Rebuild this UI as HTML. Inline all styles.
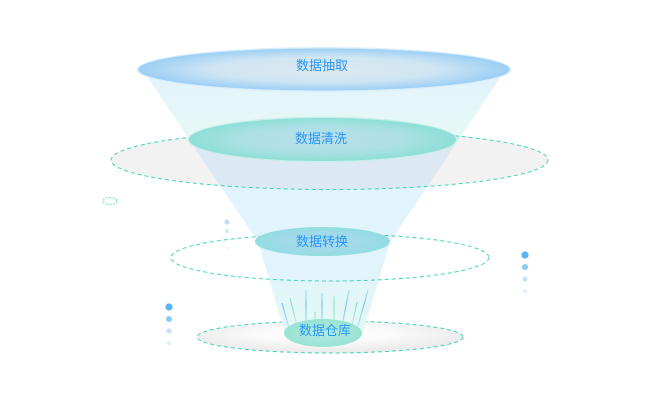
<!DOCTYPE html>
<html><head><meta charset="utf-8"><style>
html,body{margin:0;padding:0;background:#fff;}
svg{display:block;}
text{font-family:"Liberation Sans","Noto Sans CJK SC",sans-serif;font-size:13px;fill:#2896f5;}
</style></head><body>
<svg width="660" height="400" viewBox="0 0 660 400" xmlns="http://www.w3.org/2000/svg">
<defs>
<linearGradient id="fun" x1="0" y1="78" x2="0" y2="335" gradientUnits="userSpaceOnUse">
<stop offset="0" stop-color="#e2f4fb"/>
<stop offset="0.22" stop-color="#e6f8f5"/>
<stop offset="0.4" stop-color="#e1f3fc"/>
<stop offset="0.75" stop-color="#e1f4fb"/>
<stop offset="1" stop-color="#e4f8f3"/>
</linearGradient>
<radialGradient id="gTop" cx="0.5" cy="0.5" r="0.5">
<stop offset="0" stop-color="#dde9f0"/>
<stop offset="0.6" stop-color="#cfe5f3"/>
<stop offset="1" stop-color="#9ccff5"/>
</radialGradient>
<radialGradient id="gClean" cx="0.5" cy="0.5" r="0.5">
<stop offset="0" stop-color="#bbdfeb"/>
<stop offset="0.6" stop-color="#ade0e6"/>
<stop offset="1" stop-color="#8ddfd6"/>
</radialGradient>
<radialGradient id="gTrans" cx="0.5" cy="0.5" r="0.5">
<stop offset="0" stop-color="#acd9ef"/>
<stop offset="0.6" stop-color="#a0dae8"/>
<stop offset="1" stop-color="#92dce1"/>
</radialGradient>
<radialGradient id="gWare" cx="0.5" cy="0.5" r="0.5">
<stop offset="0" stop-color="#b3ece2"/>
<stop offset="1" stop-color="#98e3d2"/>
</radialGradient>
<radialGradient id="gBot" cx="0.48" cy="0.4" r="0.55">
<stop offset="0" stop-color="#ffffff"/>
<stop offset="0.45" stop-color="#fafafa"/>
<stop offset="1" stop-color="#ebebeb"/>
</radialGradient>
<linearGradient id="rb" x1="0" y1="288" x2="0" y2="330" gradientUnits="userSpaceOnUse">
<stop offset="0" stop-color="#6fbff2" stop-opacity="0.3"/>
<stop offset="0.4" stop-color="#6fbff2" stop-opacity="0.9"/>
<stop offset="1" stop-color="#6fbff2" stop-opacity="0.25"/>
</linearGradient>
<linearGradient id="rg" x1="0" y1="288" x2="0" y2="330" gradientUnits="userSpaceOnUse">
<stop offset="0" stop-color="#7fe0c4" stop-opacity="0.3"/>
<stop offset="0.4" stop-color="#7fe0c4" stop-opacity="0.9"/>
<stop offset="1" stop-color="#7fe0c4" stop-opacity="0.25"/>
</linearGradient>
<clipPath id="greyClip"><ellipse cx="329.5" cy="160" rx="218.5" ry="29.5"/></clipPath>
</defs>

<ellipse cx="329.5" cy="160" rx="218.5" ry="29.5" fill="#f2f2f2"/>
<ellipse cx="330" cy="337" rx="133" ry="16" fill="url(#gBot)" stroke="#3dd6b4" stroke-width="1" stroke-dasharray="4 3"/>

<polygon points="148,78 500,78 390,242 363,333 285,333 258,242" fill="url(#fun)"/>
<polygon points="148,78 500,78 390,242 363,333 285,333 258,242" fill="#dce9f2" clip-path="url(#greyClip)"/>

<g stroke-width="1.2" fill="none">
<line x1="282" y1="303" x2="289" y2="328" stroke="url(#rb)"/>
<line x1="290" y1="298" x2="297" y2="326" stroke="url(#rg)"/>
<line x1="306" y1="290" x2="306" y2="322" stroke="url(#rb)"/>
<line x1="315" y1="312" x2="315" y2="326" stroke="url(#rg)"/>
<line x1="322" y1="293" x2="322" y2="321" stroke="url(#rb)"/>
<line x1="334" y1="296" x2="334" y2="322" stroke="url(#rg)"/>
<line x1="349" y1="290" x2="343" y2="321" stroke="url(#rb)"/>
<line x1="357" y1="302" x2="352" y2="326" stroke="url(#rg)"/>
<line x1="368" y1="290" x2="358" y2="326" stroke="url(#rb)"/>
</g>

<ellipse cx="329.5" cy="160" rx="218.5" ry="29.5" fill="none" stroke="#3dd6b4" stroke-width="1" stroke-dasharray="4 3"/>
<ellipse cx="330" cy="257.5" rx="159" ry="23.5" fill="none" stroke="#3dd6b4" stroke-width="1" stroke-dasharray="4 3"/>
<ellipse cx="110" cy="201" rx="7" ry="3.5" fill="none" stroke="#5fe0c4" stroke-width="1" stroke-dasharray="2 1.5"/>

<ellipse cx="324" cy="69.5" rx="187.5" ry="22.5" fill="#d9eefa"/>
<ellipse cx="324" cy="69.5" rx="185.5" ry="21" fill="url(#gTop)"/>
<text x="322" y="70" text-anchor="middle">数据抽取</text>

<ellipse cx="322.5" cy="139.5" rx="135" ry="23" fill="#c9efea"/>
<ellipse cx="322.5" cy="139.5" rx="133.5" ry="21.5" fill="url(#gClean)"/>
<text x="321" y="143" text-anchor="middle">数据清洗</text>

<ellipse cx="322.5" cy="241.5" rx="67.5" ry="14.5" fill="url(#gTrans)"/>
<text x="322" y="246" text-anchor="middle">数据转换</text>

<ellipse cx="323" cy="333" rx="39" ry="14" fill="url(#gWare)"/>
<text x="325" y="335" text-anchor="middle">数据仓库</text>

<circle cx="227" cy="222" r="2.6" fill="#bfe0f8"/>
<circle cx="227" cy="231" r="2" fill="#cfe8fa"/>
<circle cx="227" cy="248" r="1.4" fill="#eaf5fd"/>

<circle cx="169" cy="307" r="3.6" fill="#58b4f6"/>
<circle cx="169" cy="319" r="3" fill="#8ccaf7"/>
<circle cx="169" cy="331" r="2.5" fill="#c0e1f9"/>
<circle cx="169" cy="343" r="2" fill="#dff0fc"/>

<circle cx="525" cy="255" r="3.6" fill="#58b4f6"/>
<circle cx="525" cy="267" r="3" fill="#8ccaf7"/>
<circle cx="525" cy="279" r="2.5" fill="#c0e1f9"/>
<circle cx="525" cy="291" r="2" fill="#dff0fc"/>
</svg>
</body></html>
